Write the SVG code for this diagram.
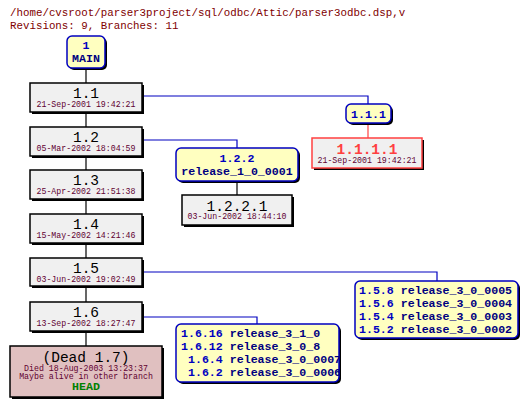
<svg xmlns="http://www.w3.org/2000/svg" width="528" height="407" viewBox="0 0 528 407">
<style>
.hdr{font-family:"Liberation Mono",monospace;font-size:10.8px;fill:#800000}
.big{font-family:"Liberation Mono",monospace;font-size:14.5px;fill:#000}
.date{font-family:"Liberation Mono",monospace;font-size:8.25px;fill:#600030}
.tag{font-family:"Liberation Mono",monospace;font-size:11.6px;font-weight:bold}
.rev{fill:#0000c0}
.nm{fill:#000080}
.box{fill:#f0f0f0;stroke:#000;stroke-width:1.5}
.sh{fill:#000}
.ybox{fill:#ffffc0;stroke:#0000c0;stroke-width:1.5}
.c{fill:none;stroke-width:1.2}
</style>
<defs>
<clipPath id="clip16"><rect x="176" y="324" width="163" height="58"/></clipPath>
</defs>
<rect width="528" height="407" fill="#fff"/>
<text class="hdr" x="10" y="16">/home/cvsroot/parser3project/sql/odbc/Attic/parser3odbc.dsp,v</text>
<text class="hdr" x="10" y="29">Revisions: 9, Branches: 11</text>

<g id="connectors">
<path class="c" stroke="#000" d="M86 68V346"/>
<path class="c" stroke="#0000c0" d="M142 96H368V104"/>
<path class="c" stroke="#ff4040" d="M368 123V138"/>
<path class="c" stroke="#0000c0" d="M142 140H237V148"/>
<path class="c" stroke="#000" d="M237 181V195"/>
<path class="c" stroke="#0000c0" d="M142 272H437V281"/>
<path class="c" stroke="#0000c0" d="M142 317H257V324"/>
</g>

<g id="main">
<rect class="sh" x="69" y="38" width="38" height="32" rx="5"/>
<rect class="ybox" x="67" y="36" width="38" height="32" rx="5"/>
<text class="tag rev" x="86" y="49" text-anchor="middle">1</text>
<text class="tag nm" x="86" y="62" text-anchor="middle">MAIN</text>
</g>

<g id="r1.1">
<rect class="sh" x="32" y="85" width="112" height="29"/>
<rect class="box" x="30" y="83" width="112" height="29"/>
<text class="big" x="86" y="98" text-anchor="middle">1.1</text>
<text class="date" x="86" y="107" text-anchor="middle">21-Sep-2001 19:42:21</text>
</g>

<g id="r1.2">
<rect class="sh" x="32" y="129" width="112" height="29"/>
<rect class="box" x="30" y="127" width="112" height="29"/>
<text class="big" x="86" y="142" text-anchor="middle">1.2</text>
<text class="date" x="86" y="151" text-anchor="middle">05-Mar-2002 18:04:59</text>
</g>

<g id="r1.3">
<rect class="sh" x="32" y="172" width="112" height="29"/>
<rect class="box" x="30" y="170" width="112" height="29"/>
<text class="big" x="86" y="185" text-anchor="middle">1.3</text>
<text class="date" x="86" y="194" text-anchor="middle">25-Apr-2002 21:51:38</text>
</g>

<g id="r1.4">
<rect class="sh" x="32" y="216" width="112" height="29"/>
<rect class="box" x="30" y="214" width="112" height="29"/>
<text class="big" x="86" y="229" text-anchor="middle">1.4</text>
<text class="date" x="86" y="238" text-anchor="middle">15-May-2002 14:21:46</text>
</g>

<g id="r1.5">
<rect class="sh" x="32" y="260" width="112" height="28"/>
<rect class="box" x="30" y="258" width="112" height="28"/>
<text class="big" x="86" y="273" text-anchor="middle">1.5</text>
<text class="date" x="86" y="282" text-anchor="middle">03-Jun-2002 19:02:49</text>
</g>

<g id="r1.6">
<rect class="sh" x="32" y="304" width="112" height="29"/>
<rect class="box" x="30" y="302" width="112" height="29"/>
<text class="big" x="86" y="317" text-anchor="middle">1.6</text>
<text class="date" x="86" y="326" text-anchor="middle">13-Sep-2002 18:27:47</text>
</g>

<g id="dead">
<rect class="sh" x="12" y="348" width="152" height="51"/>
<rect x="10" y="346" width="152" height="51" fill="#e0c0c0" stroke="#000" stroke-width="1.5"/>
<text class="big" x="86" y="362" text-anchor="middle">(Dead 1.7)</text>
<text class="date" x="86" y="371" text-anchor="middle">Died 18-Aug-2003 13:23:37</text>
<text class="date" x="86" y="379" text-anchor="middle">Maybe alive in other branch</text>
<text class="tag" x="86" y="390" text-anchor="middle" fill="#008000">HEAD</text>
</g>

<g id="b1.1.1">
<rect class="sh" x="348" y="106" width="45" height="19" rx="5"/>
<rect class="ybox" x="346" y="104" width="45" height="19" rx="5"/>
<text class="tag rev" x="368.5" y="118" text-anchor="middle">1.1.1</text>
</g>

<g id="r1.1.1.1">
<rect class="sh" x="314" y="140" width="110" height="30"/>
<rect x="312" y="138" width="110" height="30" fill="#f0f0f0" stroke="#ff4040" stroke-width="1.5"/>
<text class="big" x="367" y="154" text-anchor="middle" fill="#ff4040" style="fill:#ff4040;font-weight:bold">1.1.1.1</text>
<text class="date" x="367" y="163" text-anchor="middle">21-Sep-2001 19:42:21</text>
</g>

<g id="b1.2.2">
<rect class="sh" x="178" y="150" width="122" height="33" rx="5"/>
<rect class="ybox" x="176" y="148" width="122" height="33" rx="5"/>
<text class="tag rev" x="237" y="162" text-anchor="middle">1.2.2</text>
<text class="tag nm" x="237" y="175" text-anchor="middle">release_1_0_0001</text>
</g>

<g id="r1.2.2.1">
<rect class="sh" x="184" y="197" width="110" height="30"/>
<rect class="box" x="182" y="195" width="110" height="30"/>
<text class="big" x="237" y="211" text-anchor="middle">1.2.2.1</text>
<text class="date" x="237" y="219" text-anchor="middle">03-Jun-2002 18:44:10</text>
</g>

<g id="b1.5">
<rect class="sh" x="357" y="283" width="163" height="57" rx="5"/>
<rect class="ybox" x="355" y="281" width="163" height="57" rx="5"/>
<text class="tag" x="359" y="294"><tspan class="rev">1.5.8</tspan><tspan class="nm"> release_3_0_0005</tspan></text>
<text class="tag" x="359" y="307"><tspan class="rev">1.5.6</tspan><tspan class="nm"> release_3_0_0004</tspan></text>
<text class="tag" x="359" y="320"><tspan class="rev">1.5.4</tspan><tspan class="nm"> release_3_0_0003</tspan></text>
<text class="tag" x="359" y="333"><tspan class="rev">1.5.2</tspan><tspan class="nm"> release_3_0_0002</tspan></text>
</g>

<g id="b1.6">
<rect class="sh" x="178" y="326" width="163" height="58" rx="5"/>
<rect class="ybox" x="176" y="324" width="163" height="58" rx="5"/>
<g clip-path="url(#clip16)">
<text class="tag" x="181" y="337"><tspan class="rev">1.6.16</tspan><tspan class="nm"> release_3_1_0</tspan></text>
<text class="tag" x="181" y="350"><tspan class="rev">1.6.12</tspan><tspan class="nm"> release_3_0_8</tspan></text>
<text class="tag" x="188" y="363"><tspan class="rev">1.6.4</tspan><tspan class="nm"> release_3_0_0007</tspan></text>
<text class="tag" x="188" y="376"><tspan class="rev">1.6.2</tspan><tspan class="nm"> release_3_0_0006</tspan></text>
</g>
</g>
</svg>
